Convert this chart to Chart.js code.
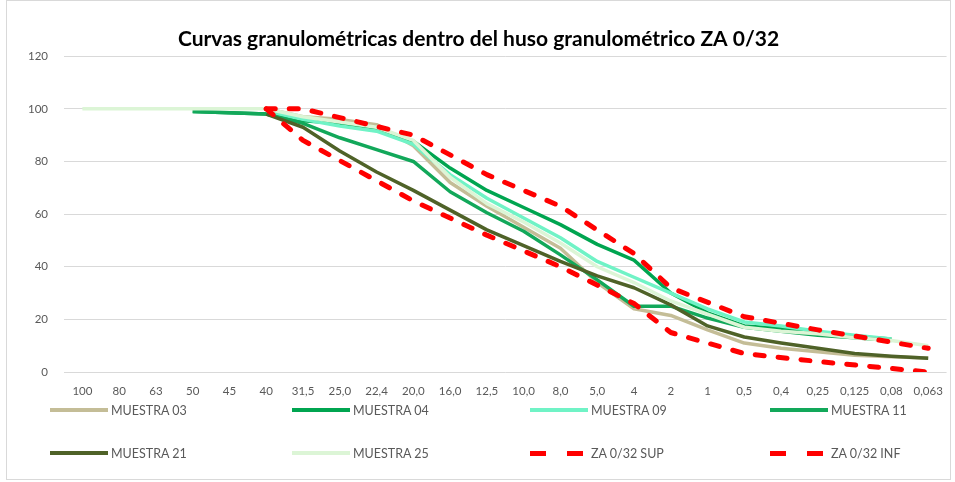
<!DOCTYPE html>
<html>
<head>
<meta charset="utf-8">
<script src="https://cdn.jsdelivr.net/npm/chart.js@4"></script>
<style>
  body { margin: 0; background: #fff; }
  #wrap { position: relative; width: 955px; height: 482px; font-family: Lato, "Liberation Sans", sans-serif; }
  #frame { position: absolute; left: 6px; top: 0; width: 943px; height: 478px; border: 1px solid #d9d9d9; pointer-events: none; }
  .item { position: absolute; height: 20px; display: flex; align-items: center; font-size: 12.5px; color: #595959; white-space: nowrap; }
  .sample { width: 58px; height: 4px; margin-right: 3px; }
</style>
</head>
<body>
<div id="wrap">
  <canvas id="chart" width="955" height="482"></canvas>
  <div id="frame"></div>
</div>
<script>
// tamices (mm)
const sieves = ["100", "80", "63", "50", "45", "40", "31,5", "25,0", "22,4", "20,0", "16,0", "12,5",
  "10,0", "8,0", "5,0", "4", "2", "1", "0,5", "0,4", "0,25", "0,125", "0,08", "0,063"];

// % que pasa de cada muestra
const muestra03 = [null, null, null, null, null, 100, 97, 96, 94, 86, 72, 63, 55, 47, 34, 24, 21.5, 16, 11, 9, 7.7, 6.4, 5.8, 5.3];
const muestra04 = [null, null, null, 99, 98.5, 98, 95.5, 94.5, 92.7, 87.7, 77.5, 69, 62.5, 56, 48.5, 42.5, 30, 22.5, 17.5, 16.5, 15, 13.5, 12.5, null];
const muestra09 = [null, null, null, null, null, 99, 96, 93.5, 91.5, 86.5, 75, 66, 58.5, 51, 42, 36, 30, 24, 19, 17.5, 15.5, 14, 12.5, null];
const muestra11 = [null, null, null, 99, 98.5, 98, 94.5, 89, 84.5, 80, 68.5, 60.5, 53.5, 44.5, 35, 25, 25, 20.5, 17, 15.5, 14, 13, 12, null];
const muestra21 = [null, null, null, null, null, 98, 93, 84, 76, 69, 61.5, 54, 48, 42, 36.5, 32, 25.5, 17.5, 13.3, 11, 9, 7, 6, 5.2];
const muestra25 = [100, 100, 100, 100, 100, 100, 97, 95, 93, 88, 74, 64, 57, 49, 40, 34, 27, 22, 17, 15.5, 14.5, 13, 12, 10];

// huso ZA 0/32 (solo tamices de la norma, el resto vacío)
const husoSup = [null, null, null, null, null, 100, 100, null, null, 90, null, 75, null, 63, null, 45, 32, null, 21, null, 16, null, null, 9];
const husoInf = [null, null, null, null, null, 100, 88, null, null, 65, null, 52, null, 40, null, 26, 15, null, 7, null, 4, null, null, 0];

const yTicks = [0, 20, 40, 60, 80, 100, 120];

const series = [
  { label: "MUESTRA 03", data: muestra03, color: "#c4bd97" },
  { label: "MUESTRA 04", data: muestra04, color: "#00a550" },
  { label: "MUESTRA 09", data: muestra09, color: "#70f3c6" },
  { label: "MUESTRA 11", data: muestra11, color: "#12a85a" },
  { label: "MUESTRA 21", data: muestra21, color: "#4f6228" },
  { label: "MUESTRA 25", data: muestra25, color: "#dcf5d6" },
  { label: "ZA 0/32 SUP", data: husoSup, color: "#ff0000", dashed: true },
  { label: "ZA 0/32 INF", data: husoInf, color: "#ff0000", dashed: true }
];

const datasets = series.map((s, i) => ({
  label: s.label,
  data: s.data,
  borderColor: s.color,
  backgroundColor: s.color,
  borderWidth: s.dashed ? 5 : 3.5,
  borderDash: s.dashed ? [9, 14] : [],
  borderCapStyle: s.dashed ? "round" : "butt",
  borderJoinStyle: "round",
  pointRadius: 0,
  tension: 0,
  spanGaps: true,
  order: series.length - i // el último encima, como en Excel
}));

new Chart(document.getElementById("chart"), {
  type: "line",
  data: { labels: sieves, datasets },
  options: {
    responsive: false,
    animation: false,
    devicePixelRatio: 1,
    layout: { padding: { left: 10, right: 8, top: 0, bottom: 80 } },
    plugins: {
      legend: { display: false },
      tooltip: { enabled: false },
      title: {
        display: true,
        text: "Curvas granulométricas dentro del huso granulométrico ZA 0/32",
        color: "#000",
        font: { family: "Lato", size: 21, weight: "bold" },
        padding: { top: 27, bottom: 4 }
      }
    },
    scales: {
      x: {
        offset: true,
        grid: { display: false, drawTicks: false },
        border: { display: false },
        ticks: { color: "#595959", font: { family: "Lato", size: 11.5 }, maxRotation: 0, autoSkip: false, padding: 12 },
        afterFit: (s) => { s.height = 30; }
      },
      y: {
        min: 0,
        max: 120,
        afterBuildTicks: (s) => { s.ticks = yTicks.map(v => ({ value: v })); },
        grid: { color: "#d9d9d9", drawTicks: false },
        border: { display: false },
        ticks: { color: "#595959", font: { family: "Lato", size: 11.5 }, padding: 16 },
        afterFit: (s) => { s.width = 54; }
      }
    }
  }
});

// leyenda en 4 columnas como la de Excel
const legendCols = [50, 292, 530, 770];
const legendRows = [400, 443];
const wrap = document.getElementById("wrap");
series.forEach((s, i) => {
  const item = document.createElement("div");
  item.className = "item";
  item.style.left = legendCols[i % 4] + "px";
  item.style.top = legendRows[Math.floor(i / 4)] + "px";
  const sample = document.createElement("div");
  sample.className = "sample";
  if (s.dashed) {
    sample.style.height = "5px";
    sample.style.background = `linear-gradient(to right, ${s.color} 0 16px, transparent 16px 37px, ${s.color} 37px 53px, transparent 53px)`;
  } else {
    sample.style.background = s.color;
  }
  item.appendChild(sample);
  item.appendChild(document.createTextNode(s.label));
  wrap.appendChild(item);
});
</script>
</body>
</html>
